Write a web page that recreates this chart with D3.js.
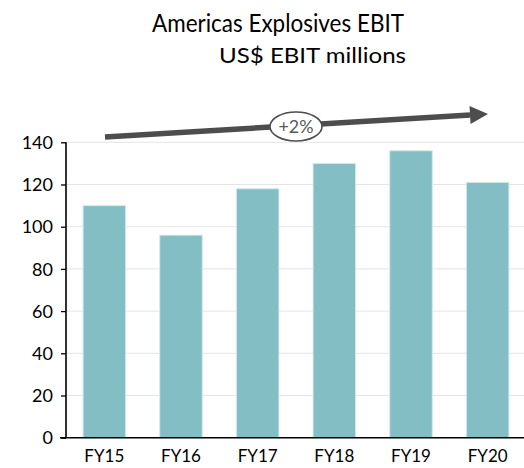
<!DOCTYPE html>
<html>
<head>
<meta charset="utf-8">
<script src="https://cdn.jsdelivr.net/npm/d3@7"></script>
<style>
  html, body { margin: 0; padding: 0; background: #fff; }
  svg { display: block; font-family: Lato, "Noto Sans", sans-serif; }
</style>
</head>
<body>
<svg id="chart" width="524" height="468"></svg>
<script>
// EBIT by fiscal year, US$ millions
const years = ["FY15", "FY16", "FY17", "FY18", "FY19", "FY20"];
const ebit = [110, 96, 118, 130, 136, 121];
const yTicks = [0, 20, 40, 60, 80, 100, 120, 140];
const growthLabel = "+2%";
const title = "Americas Explosives EBIT";
const subtitle = "US$ EBIT millions";

const svg = d3.select("#chart");
const W = 524;

const x = d3.scaleBand().domain(years).range([66, 526]).paddingInner(0.445).paddingOuter(0.2225);
const y = d3.scaleLinear().domain([0, 140]).range([437.7, 142.3]);

// gridlines
svg.append("g").selectAll("line").data(yTicks.filter(d => d > 0)).join("line")
  .attr("x1", 66).attr("x2", W)
  .attr("y1", d => y(d)).attr("y2", d => y(d))
  .attr("stroke", "#e4e4e4").attr("stroke-width", 1);

// bars
svg.append("g").selectAll("rect").data(years).join("rect")
  .attr("x", d => x(d))
  .attr("width", x.bandwidth())
  .attr("y", (d, i) => y(ebit[i]))
  .attr("height", (d, i) => y(0) - y(ebit[i]))
  .attr("fill", "#84bec5")
  .attr("stroke", "#d4eaec").attr("stroke-width", 1);

// y axis
const yAxis = svg.append("g").attr("transform", "translate(66,0)")
  .call(d3.axisLeft(y).tickValues(yTicks).tickSize(5).tickPadding(8).tickFormat(d3.format("d")));
yAxis.select(".domain").attr("stroke", "#000").attr("stroke-width", 1.6).attr("d", `M0,${y(140)}V${y(0)}`);
yAxis.selectAll(".tick line").attr("stroke", "#000").attr("stroke-width", 1.3);
yAxis.selectAll(".tick text").attr("font-size", 18).attr("fill", "#000").attr("font-family", "Lato, sans-serif").attr("dy", "0.34em");

// x axis
const xAxis = svg.append("g").attr("transform", `translate(0,${y(0)})`)
  .call(d3.axisBottom(x).tickSize(0).tickPadding(10));
xAxis.select(".domain").remove();
svg.append("line").attr("x1", 60).attr("x2", W).attr("y1", y(0)).attr("y2", y(0))
  .attr("stroke", "#000").attr("stroke-width", 1.6);
xAxis.selectAll(".tick text").attr("font-size", 17).attr("fill", "#000").attr("font-family", "Lato, sans-serif").attr("dy", "0.85em");

// growth arrow across the top
const ax0 = 105, ay0 = 137, ax1 = 488, ay1 = 114;
const ang = Math.atan2(ay1 - ay0, ax1 - ax0);
const headLen = 18, headHalf = 9;
const bx = ax1 - headLen * Math.cos(ang), by = ay1 - headLen * Math.sin(ang);
svg.append("line").attr("x1", ax0).attr("y1", ay0).attr("x2", bx).attr("y2", by)
  .attr("stroke", "#4d4d4d").attr("stroke-width", 5.5);
const nx = -Math.sin(ang), ny = Math.cos(ang);
svg.append("path")
  .attr("d", `M${ax1},${ay1}L${bx + nx * headHalf},${by + ny * headHalf}L${bx - nx * headHalf},${by - ny * headHalf}Z`)
  .attr("fill", "#4d4d4d");
const ex = 296, ey = ay0 + (ay1 - ay0) * (ex - ax0) / (ax1 - ax0);
svg.append("ellipse").attr("cx", ex).attr("cy", ey + 1).attr("rx", 26).attr("ry", 14.5)
  .attr("fill", "#fff").attr("stroke", "#4d4d4d").attr("stroke-width", 1.6);
svg.append("text").attr("x", ex).attr("y", ey + 1).attr("dy", "0.36em")
  .attr("text-anchor", "middle").attr("font-size", 17.5).attr("fill", "#595959")
  .attr("textLength", 35).attr("lengthAdjust", "spacingAndGlyphs")
  .text(growthLabel);

// titles
svg.append("text").attr("x", 152).attr("y", 31.5).attr("font-size", 24.5).attr("fill", "#000")
  .attr("textLength", 252).attr("lengthAdjust", "spacingAndGlyphs").text(title);
svg.append("text").attr("x", 219).attr("y", 63.3).attr("font-size", 21).attr("fill", "#000")
  .attr("textLength", 187).attr("lengthAdjust", "spacingAndGlyphs").text(subtitle);
</script>
</body>
</html>
